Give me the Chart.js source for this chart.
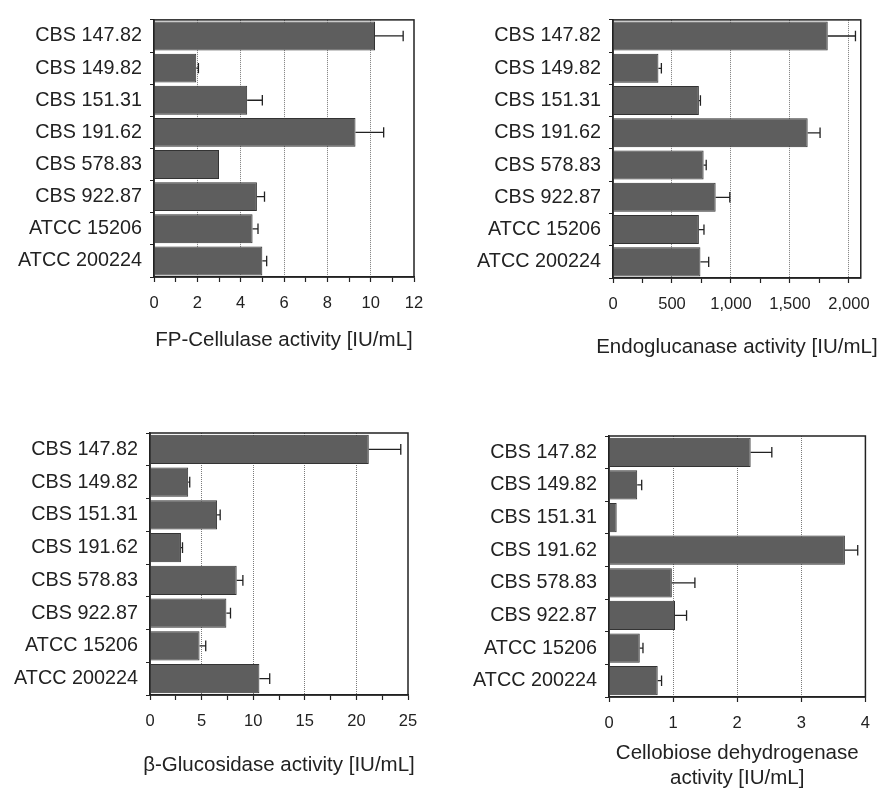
<!DOCTYPE html>
<html>
<head>
<meta charset="utf-8">
<script src="https://cdn.jsdelivr.net/npm/chart.js@4.4.1/dist/chart.umd.min.js"></script>
<style>
  body { margin: 0; background: #fff; }
  .panel { position: absolute; }
</style>
</head>
<body>
<div class="panel" id="p1"><canvas id="c1"></canvas></div>
<div class="panel" id="p2"><canvas id="c2"></canvas></div>
<div class="panel" id="p3"><canvas id="c3"></canvas></div>
<div class="panel" id="p4"><canvas id="c4"></canvas></div>
<script>
// Strains, same order in every panel
var strains = ['CBS 147.82', 'CBS 149.82', 'CBS 151.31', 'CBS 191.62', 'CBS 578.83', 'CBS 922.87', 'ATCC 15206', 'ATCC 200224'];

// FP-Cellulase
var fpValues = [10.2, 1.95, 4.3, 9.3, 3.0, 4.75, 4.55, 5.0];
var fpErrors = [1.3, 0.1, 0.7, 1.3, 0, 0.35, 0.25, 0.2];
var fpTicks = [0, 1, 2, 3, 4, 5, 6, 7, 8, 9, 10, 11, 12];
var fpLabels = [0, 2, 4, 6, 8, 10, 12];

// Endoglucanase
var egValues = [1820, 385, 728, 1650, 768, 870, 728, 741];
var egErrors = [235, 25, 13, 105, 22, 120, 43, 70];
var egTicks = [0, 250, 500, 750, 1000, 1250, 1500, 1750, 2000];
var egLabels = [0, 500, 1000, 1500, 2000];

// beta-Glucosidase
var bgValues = [21.2, 3.7, 6.5, 3.0, 8.4, 7.4, 4.8, 10.6];
var bgErrors = [3.1, 0.15, 0.3, 0.15, 0.6, 0.4, 0.6, 1.0];
var bgTicks = [0, 2.5, 5, 7.5, 10, 12.5, 15, 17.5, 20, 22.5, 25];
var bgLabels = [0, 5, 10, 15, 20, 25];

// Cellobiose dehydrogenase
var cdValues = [2.21, 0.44, 0.12, 3.68, 0.98, 1.03, 0.48, 0.76];
var cdErrors = [0.33, 0.07, 0, 0.2, 0.36, 0.18, 0.05, 0.06];
var cdTicks = [0, 1, 2, 3, 4];
var cdLabels = [0, 1, 2, 3, 4];

var fontFamily = '"Liberation Sans", Arial, sans-serif';
Chart.defaults.font.family = fontFamily;
Chart.defaults.color = '#222';

var ink = '#222';
var titleSize = 20.5;
var titleLine = 25;

// box = div on the page, area = plot rectangle, titleY = centre of last title line
var panels = [
    { id: 'p1', canvas: 'c1', values: fpValues, errors: fpErrors, ticks: fpTicks, labels: fpLabels, max: 12,
      title: 'FP-Cellulase activity [IU/mL]',
      box: { x: 0, y: 0, w: 441, h: 395 }, area: { l: 154, t: 14, r: 414, b: 277 }, titleY: 340 },
    { id: 'p2', canvas: 'c2', values: egValues, errors: egErrors, ticks: egTicks, labels: egLabels, max: 2100,
      title: 'Endoglucanase activity [IU/mL]',
      box: { x: 441, y: 0, w: 441, h: 395 }, area: { l: 613, t: 15, r: 874, b: 278 }, titleY: 347 },
    { id: 'p3', canvas: 'c3', values: bgValues, errors: bgErrors, ticks: bgTicks, labels: bgLabels, max: 25,
      title: 'β-Glucosidase activity [IU/mL]',
      box: { x: 0, y: 395, w: 441, h: 394 }, area: { l: 150, t: 433, r: 408, b: 695 }, titleY: 765 },
    { id: 'p4', canvas: 'c4', values: cdValues, errors: cdErrors, ticks: cdTicks, labels: cdLabels, max: 4,
      title: ['Cellobiose dehydrogenase', 'activity [IU/mL]'],
      box: { x: 441, y: 395, w: 441, h: 394 }, area: { l: 609, t: 436, r: 868, b: 697 }, titleY: 778 }
];

// Error bars (right side only, with cap) and the frame round the plot
var errorBarPlugin = {
    id: 'errorBars',
    afterDatasetsDraw: function (chart) {
        var ctx = chart.ctx;
        var xScale = chart.scales.x;
        var ds = chart.data.datasets[0];
        var meta = chart.getDatasetMeta(0);
        ctx.save();
        ctx.strokeStyle = ink;
        ctx.lineWidth = 1.3;
        meta.data.forEach(function (bar, i) {
            if (!ds.errors[i]) return;
            var xEnd = xScale.getPixelForValue(ds.data[i] + ds.errors[i]);
            var cap = bar.height * 0.18;
            ctx.beginPath();
            ctx.moveTo(bar.x, bar.y);
            ctx.lineTo(xEnd, bar.y);
            ctx.moveTo(xEnd, bar.y - cap);
            ctx.lineTo(xEnd, bar.y + cap);
            ctx.stroke();
        });
        var a = chart.chartArea;
        ctx.lineWidth = 1.5;
        ctx.strokeRect(a.left, a.top, a.right - a.left, a.bottom - a.top);
        ctx.restore();
    }
};

// Axis title centred under the plot; the built-in one squeezes text wider than the axis
var axisTitlePlugin = {
    id: 'axisTitle',
    afterDraw: function (chart) {
        var t = chart.options.scales.x.title;
        var lines = [].concat(t.text);
        var a = chart.chartArea;
        var ctx = chart.ctx;
        var yLast = chart.scales.x.bottom - titleLine / 2;
        ctx.save();
        ctx.font = titleSize + 'px ' + fontFamily;
        ctx.fillStyle = ink;
        ctx.textAlign = 'center';
        ctx.textBaseline = 'middle';
        lines.forEach(function (line, i) {
            ctx.fillText(line, (a.left + a.right) / 2, yLast - (lines.length - 1 - i) * titleLine);
        });
        ctx.restore();
    }
};

panels.forEach(function (p) {
    var div = document.getElementById(p.id);
    div.style.left = p.box.x + 'px';
    div.style.top = p.box.y + 'px';
    div.style.width = p.box.w + 'px';
    div.style.height = p.box.h + 'px';

    var axisBottom = p.titleY + titleLine / 2;

    new Chart(document.getElementById(p.canvas), {
        type: 'bar',
        data: {
            labels: strains,
            datasets: [{
                data: p.values,
                errors: p.errors,
                backgroundColor: '#5e5e5e',
                borderColor: '#333',
                borderWidth: 1,
                barPercentage: 0.9,
                categoryPercentage: 1
            }]
        },
        options: {
            indexAxis: 'y',
            responsive: true,
            maintainAspectRatio: false,
            animation: false,
            layout: {
                padding: {
                    left: 0,
                    top: p.area.t - p.box.y,
                    right: p.box.x + p.box.w - p.area.r,
                    bottom: p.box.y + p.box.h - axisBottom
                }
            },
            plugins: { legend: { display: false }, tooltip: { enabled: false } },
            scales: {
                y: {
                    type: 'category',
                    offset: true,
                    grid: { offset: true, drawOnChartArea: false, tickLength: 4, tickColor: ink },
                    border: { color: ink, width: 1.5 },
                    ticks: { font: { size: 19.8 }, color: ink, padding: 8 },
                    afterFit: function (s) { s.width = p.area.l - p.box.x; }
                },
                x: {
                    type: 'linear',
                    min: 0,
                    max: p.max,
                    afterBuildTicks: function (s) {
                        s.ticks = p.ticks.map(function (v) { return { value: v }; });
                    },
                    ticks: {
                        autoSkip: false,
                        maxRotation: 0,
                        font: { size: 16.5 },
                        color: ink,
                        padding: 12,
                        callback: function (v) {
                            return p.labels.indexOf(v) >= 0 ? v.toLocaleString('en-US') : '';
                        }
                    },
                    grid: {
                        color: function (c) {
                            var v = c.tick ? c.tick.value : null;
                            return (v && p.labels.indexOf(v) >= 0 && v < p.max) ? '#7a7a7a' : 'rgba(0,0,0,0)';
                        },
                        lineWidth: 1,
                        borderDash: [1, 1],
                        tickLength: 5,
                        tickColor: ink,
                        tickWidth: 1.2
                    },
                    border: { color: ink, width: 1.5, dash: [1, 1] },
                    title: { display: false, text: p.title },
                    afterFit: function (s) { s.height = axisBottom - p.area.b; }
                }
            }
        },
        plugins: [errorBarPlugin, axisTitlePlugin]
    });
});
</script>
</body>
</html>
